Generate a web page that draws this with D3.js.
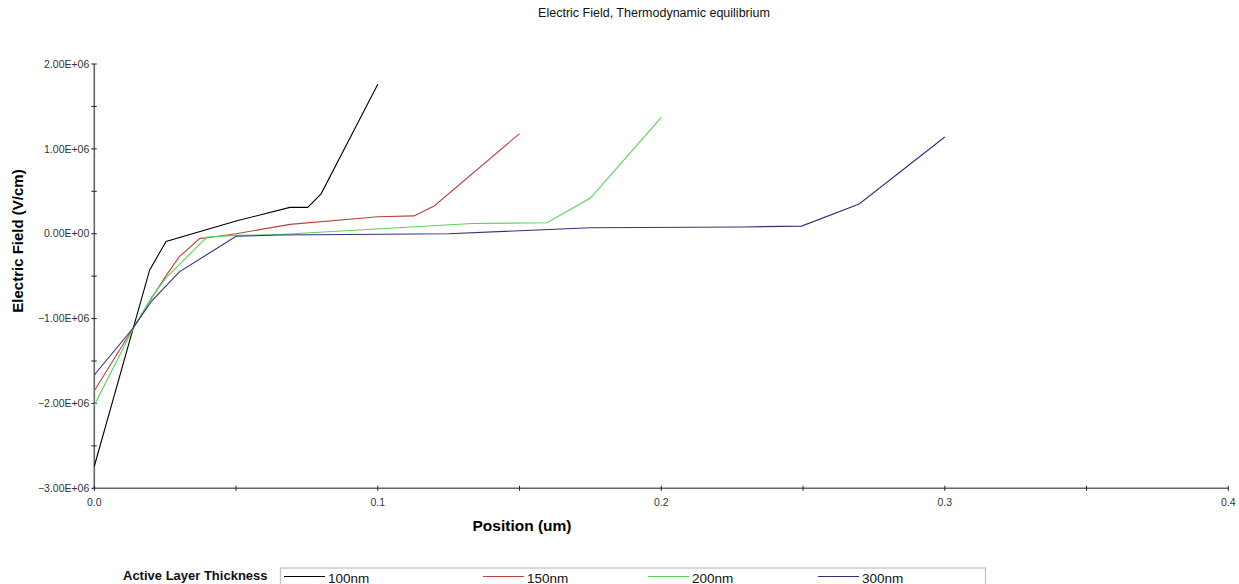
<!DOCTYPE html>
<html>
  <head>
    <meta charset="utf-8">
    <style type="text/css">
      body { margin: 0; background: #fff; }
      text { font-family: Arial, "Liberation Sans", sans-serif; }
      .tick-label { font-size: 10.5px; fill: #333; }
    </style>
  </head>
  <body>
    <div id="chart"></div>
    <script src="https://d3js.org/d3.v7.min.js"></script>
    <script>
      const width = 1239, height = 584;

      // positions (um) and electric field (V/cm) per active layer thickness
      const pos100 = [0, 0.0195, 0.0253, 0.05, 0.069, 0.0753, 0.080, 0.100];
      const field100 = [-2.74e6, -0.43e6, -0.09e6, 0.15e6, 0.31e6, 0.31e6, 0.47e6, 1.76e6];

      const pos150 = [0, 0.0132, 0.0202, 0.0252, 0.030, 0.0373, 0.040, 0.050, 0.069, 0.100, 0.1128, 0.120, 0.150];
      const field150 = [-1.85e6, -1.14e6, -0.76e6, -0.50e6, -0.27e6, -0.055e6, -0.047e6, 0.0, 0.11e6, 0.20e6, 0.21e6, 0.33e6, 1.18e6];

      const pos200 = [0, 0.0138, 0.0202, 0.0253, 0.0397, 0.050, 0.0655, 0.1333, 0.1597, 0.175, 0.200];
      const field200 = [-2.02e6, -1.11e6, -0.75e6, -0.52e6, -0.04e6, -0.02e6, -0.01e6, 0.12e6, 0.13e6, 0.42e6, 1.37e6];

      const pos300 = [0, 0.0135, 0.0203, 0.030, 0.050, 0.0655, 0.125, 0.175, 0.229, 0.2495, 0.2698, 0.300];
      const field300 = [-1.665e6, -1.12e6, -0.79e6, -0.45e6, -0.03e6, -0.015e6, 0.0, 0.07e6, 0.08e6, 0.09e6, 0.35e6, 1.14e6];

      const seriesNames = ["100nm", "150nm", "200nm", "300nm"];
      const seriesColors = ["#000000", "#bd4040", "#58d258", "#30307a"];
      const seriesPos = [pos100, pos150, pos200, pos300];
      const seriesField = [field100, field150, field200, field300];

      const xMajor = [0, 0.1, 0.2, 0.3, 0.4];
      const xMinor = [0.05, 0.15, 0.25, 0.35];
      const yMajor = [-3e6, -2e6, -1e6, 0, 1e6, 2e6];
      const yMinor = [-2.5e6, -1.5e6, -0.5e6, 0.5e6, 1.5e6];

      const svg = d3.select("#chart").append("svg")
        .attr("width", width)
        .attr("height", height);

      const x = d3.scaleLinear().domain([0, 0.4]).range([94.3, 1228.3]);
      const y = d3.scaleLinear().domain([-3e6, 2e6]).range([488.3, 64]);

      // title
      svg.append("text")
        .attr("x", 654).attr("y", 17)
        .attr("text-anchor", "middle")
        .style("font-size", "12.5px")
        .style("fill", "#111")
        .text("Electric Field, Thermodynamic equilibrium");

      // y axis
      const yAxis = svg.append("g").attr("transform", "translate(94.3,0)");
      yAxis.append("line")
        .attr("y1", y(2e6)).attr("y2", y(-3e6))
        .attr("stroke", "#666").attr("stroke-width", 1.6);
      yAxis.selectAll("line.major").data(yMajor.concat(yMinor)).enter().append("line")
        .attr("class", "major")
        .attr("x1", -3).attr("x2", 2.5)
        .attr("y1", (d) => y(d)).attr("y2", (d) => y(d))
        .attr("stroke", "#222").attr("stroke-width", 1);
      yAxis.selectAll("text").data(yMajor).enter().append("text")
        .attr("class", "tick-label")
        .attr("x", -5)
        .attr("y", (d) => y(d))
        .attr("dy", "0.35em")
        .attr("text-anchor", "end")
        .text((d) => d3.format(".2e")(d).replace("e", "E").replace(/E([+-])(\d)$/, "E$10$2"));

      // x axis
      const xAxis = svg.append("g").attr("transform", `translate(0,${y(-3e6)})`);
      xAxis.append("line")
        .attr("x1", x(0)).attr("x2", x(0.4))
        .attr("stroke", "#666").attr("stroke-width", 1.6);
      xAxis.selectAll("line.tick").data(xMajor.concat(xMinor)).enter().append("line")
        .attr("class", "tick")
        .attr("x1", (d) => x(d)).attr("x2", (d) => x(d))
        .attr("y1", -2.5).attr("y2", 2.5)
        .attr("stroke", "#222").attr("stroke-width", 1);
      xAxis.selectAll("text").data(xMajor).enter().append("text")
        .attr("class", "tick-label")
        .attr("x", (d) => x(d))
        .attr("y", 17.5)
        .attr("text-anchor", "middle")
        .text((d) => d3.format(".1f")(d));

      // axis titles
      svg.append("text")
        .attr("x", 522).attr("y", 531)
        .attr("text-anchor", "middle")
        .style("font-size", "15.5px")
        .style("font-weight", "bold")
        .text("Position (um)");
      svg.append("text")
        .attr("transform", "translate(23,241) rotate(-90)")
        .attr("text-anchor", "middle")
        .style("font-size", "15px")
        .style("font-weight", "bold")
        .text("Electric Field (V/cm)");

      // series
      const line = d3.line()
        .x((d) => x(d[0]))
        .y((d) => y(d[1]));
      svg.append("g").selectAll("path").data(seriesNames).enter().append("path")
        .attr("d", (d, i) => line(d3.zip(seriesPos[i], seriesField[i])))
        .attr("fill", "none")
        .attr("stroke", (d, i) => seriesColors[i])
        .attr("stroke-width", 1.1);

      // legend
      svg.append("text")
        .attr("x", 123).attr("y", 579.5)
        .style("font-size", "13px")
        .style("font-weight", "bold")
        .style("fill", "#111")
        .text("Active Layer Thickness");
      svg.append("rect")
        .attr("x", 280.5).attr("y", 568)
        .attr("width", 705).attr("height", 30)
        .attr("fill", "none")
        .attr("stroke", "#c4c4c4").attr("stroke-width", 1.3);
      const legendX = [284, 483, 648, 818];
      const items = svg.append("g").selectAll("g").data(seriesNames).enter().append("g")
        .attr("transform", (d, i) => `translate(${legendX[i]},0)`);
      items.append("line")
        .attr("x1", 0).attr("x2", 41)
        .attr("y1", 576.5).attr("y2", 576.5)
        .attr("stroke", (d, i) => seriesColors[i])
        .attr("stroke-width", 1.1);
      items.append("text")
        .attr("x", 44).attr("y", 582.5)
        .style("font-size", "13.5px")
        .style("fill", "#111")
        .text((d) => d);
    </script>
  </body>
</html>
